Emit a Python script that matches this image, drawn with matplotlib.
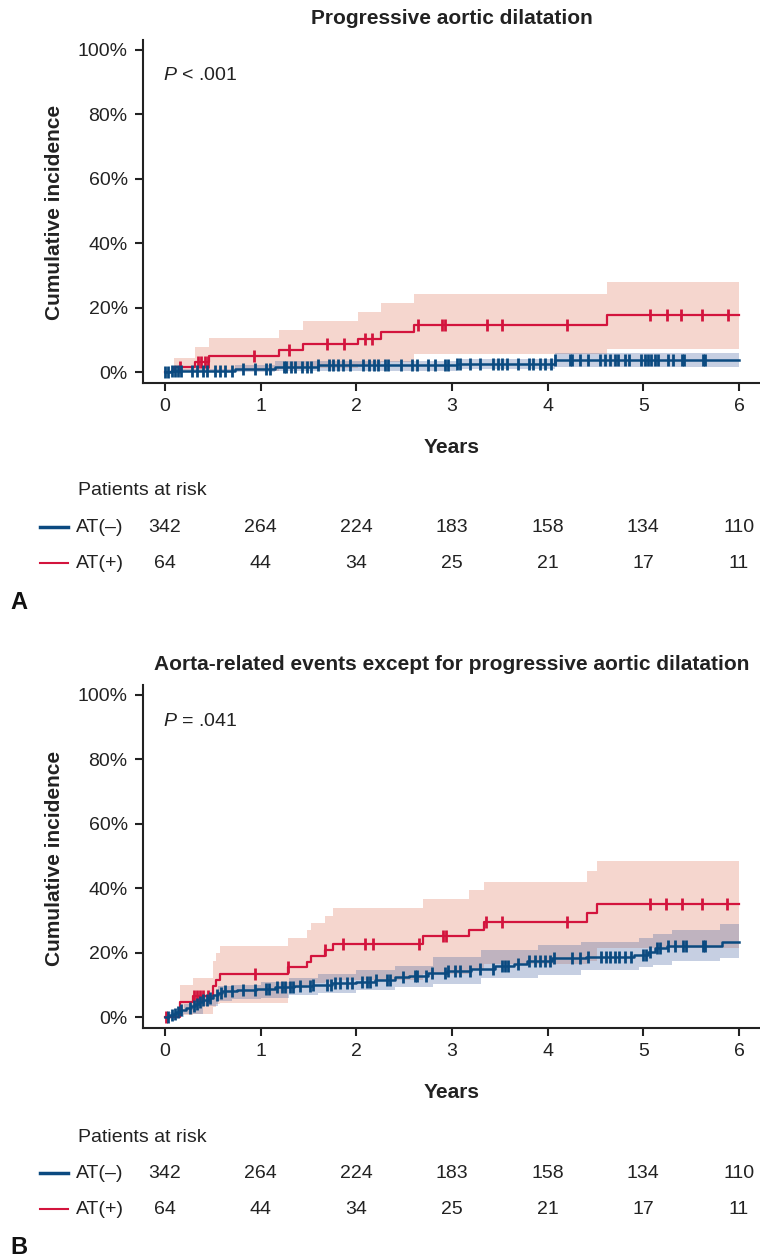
import numpy as np
import matplotlib.pyplot as plt
from matplotlib import transforms

plt.rcParams['font.family'] = ['Liberation Sans', 'DejaVu Sans']
plt.rcParams['mathtext.fontset'] = 'custom'
plt.rcParams['mathtext.it'] = 'Liberation Sans:italic'
plt.rcParams['mathtext.rm'] = 'Liberation Sans'

W, H = 760, 1260
BLUE = '#0b4a80'
RED = '#d3143d'
TXT = '#222222'

years = [0, 1, 2, 3, 4, 5, 6]
risk_neg = [342, 264, 224, 183, 158, 134, 110]
risk_pos = [64, 44, 34, 25, 21, 17, 11]

# ---- Panel A: progressive aortic dilatation ----
a_neg_t = [0, 0.06, 0.73, 1.15, 1.60, 3.05, 4.08]
a_neg_v = [0, 0.3, 0.8, 1.6, 2.1, 2.5, 3.6]
a_neg_ci_t = [0, 0.06, 0.73, 1.15, 3.05, 4.08]
a_neg_hi = [0, 1.0, 2.2, 3.4, 3.9, 5.8]
a_neg_lo = [0, 0, 0, 0.3, 0.8, 1.5]
a_neg_cens = [0.0, 0.035, 0.07, 0.10, 0.14, 0.17, 0.28, 0.33, 0.40, 0.435, 0.52,
              0.575, 0.63, 0.70, 0.82, 0.94, 1.06, 1.10, 1.24, 1.27, 1.32, 1.36,
              1.43, 1.48, 1.53, 1.60, 1.71, 1.76, 1.81, 1.86, 1.93, 2.07, 2.13,
              2.18, 2.23, 2.30, 2.33, 2.47, 2.58, 2.63, 2.75, 2.82, 2.93, 2.96,
              3.05, 3.08, 3.19, 3.29, 3.43, 3.48, 3.52, 3.57, 3.69, 3.81, 3.85,
              3.92, 3.97, 4.04, 4.08, 4.23, 4.25, 4.34, 4.42, 4.55, 4.60, 4.65,
              4.70, 4.74, 4.81, 4.85, 4.98, 5.02, 5.05, 5.08, 5.12, 5.15, 5.26,
              5.31, 5.40, 5.43, 5.62, 5.65]

a_pos_t = [0, 0.09, 0.31, 0.46, 1.19, 1.44, 2.02, 2.26, 2.60, 4.62]
a_pos_v = [0, 1.6, 3.1, 5.0, 6.8, 8.6, 10.4, 12.4, 14.6, 17.7]
a_pos_hi = [0, 4.5, 7.8, 10.7, 13.2, 15.8, 18.6, 21.5, 24.3, 28.0]
a_pos_lo = [0, 0, 0, 0.3, 0.8, 1.2, 2.5, 3.2, 5.5, 7.3]
a_pos_cens = [0.16, 0.35, 0.38, 0.42, 0.45, 0.93, 1.30, 1.69, 1.87, 2.09, 2.16,
              2.65, 2.90, 2.93, 3.37, 3.52, 4.20, 5.07, 5.25, 5.39, 5.61, 5.89]

# ---- Panel B: aorta-related events except progressive dilatation ----
b_neg_t = [0, 0.04, 0.08, 0.12, 0.17, 0.22, 0.27, 0.31, 0.36, 0.40, 0.45, 0.50,
           0.55, 0.60, 0.75, 0.95, 1.15, 1.35, 1.55, 1.75, 2.00, 2.20, 2.40,
           2.55, 2.75, 2.95, 3.20, 3.45, 3.65, 3.78, 4.05, 4.40, 4.90, 5.05,
           5.12, 5.25, 5.82]
b_neg_v = [0, 0.5, 1.0, 1.5, 2.1, 2.7, 3.3, 3.9, 4.6, 5.3, 6.0, 6.7, 7.4, 8.0,
           8.3, 8.6, 9.2, 9.6, 10.1, 10.6, 11.0, 11.5, 12.3, 12.9, 13.6, 14.2,
           15.0, 15.7, 16.5, 17.5, 18.2, 18.6, 19.2, 20.3, 21.3, 22.1, 23.4]
b_neg_ci_t = [0, 0.05, 0.2, 0.4, 0.55, 0.7, 1.0, 1.3, 1.6, 2.0, 2.4, 2.8, 3.3,
              3.9, 4.35, 4.95, 5.1, 5.3, 5.8]
b_neg_hi = [0, 1.5, 4.0, 7.0, 9.5, 10.0, 10.8, 12.0, 13.5, 14.5, 16.0, 18.5,
            20.9, 22.5, 23.4, 24.5, 25.8, 27.0, 28.8]
b_neg_lo = [0, 0, 1.0, 3.5, 5.0, 5.6, 6.0, 6.8, 7.5, 8.5, 9.3, 10.2, 12.1, 13.1,
            14.7, 15.5, 16.3, 17.3, 18.2]
b_neg_cens = [0.035, 0.07, 0.10, 0.14, 0.17, 0.26, 0.30, 0.33, 0.37, 0.40, 0.435,
              0.47, 0.54, 0.59, 0.63, 0.70, 0.82, 0.94, 1.06, 1.09, 1.17, 1.22,
              1.25, 1.31, 1.34, 1.41, 1.52, 1.55, 1.69, 1.74, 1.78, 1.83, 1.90,
              1.95, 2.06, 2.11, 2.14, 2.21, 2.32, 2.35, 2.49, 2.61, 2.63, 2.73,
              2.79, 2.93, 2.96, 3.03, 3.08, 3.19, 3.29, 3.43, 3.52, 3.55, 3.59,
              3.69, 3.81, 3.87, 3.92, 3.97, 4.02, 4.07, 4.25, 4.34, 4.42, 4.56,
              4.61, 4.65, 4.70, 4.75, 4.81, 4.87, 5.00, 5.03, 5.07, 5.14, 5.17,
              5.26, 5.33, 5.42, 5.45, 5.62, 5.65]

b_pos_t = [0, 0.16, 0.29, 0.50, 0.53, 0.58, 1.29, 1.48, 1.53, 1.67, 1.76, 2.70,
           3.18, 3.33, 4.41, 4.52]
b_pos_v = [0, 4.8, 6.6, 9.5, 11.6, 13.5, 15.4, 17.2, 18.9, 20.7, 22.7, 25.1,
           27.1, 29.6, 32.2, 35.0]
b_pos_hi = [0, 10.0, 12.2, 17.5, 19.8, 22.1, 24.5, 27.0, 29.3, 31.3, 33.9, 36.5,
            39.3, 42.0, 45.2, 48.5]
b_pos_lo = [0, 0.7, 0.9, 3.0, 4.0, 4.5, 9.0, 10.0, 10.5, 11.0, 11.5, 13.5, 15.0,
            16.5, 17.5, 21.4]
b_pos_cens = [0.01, 0.30, 0.33, 0.37, 0.40, 0.45, 0.94, 1.29, 1.67, 1.86, 2.09,
              2.17, 2.66, 2.91, 2.94, 3.36, 3.52, 4.20, 5.07, 5.24, 5.40, 5.61,
              5.88]

END = 6.0


def ext(t, v):
    return np.append(t, END), np.append(v, v[-1])


def draw_band(ax, t, lo, hi, color, z):
    te, loe = ext(t, lo)
    _, hie = ext(t, hi)
    ax.fill_between(te, loe, hie, step='post', color=color, alpha=0.3,
                    linewidth=0, zorder=z)


def draw_curve(ax, t, v, cens, color, z, lw):
    te, ve = ext(t, v)
    ax.step(te, ve, where='post', color=color, lw=lw, zorder=z)
    t = np.asarray(t)
    idx = np.searchsorted(t, cens, side='right') - 1
    ax.plot(cens, np.asarray(v)[idx], linestyle='none', marker='|',
            markersize=8, markeredgewidth=2.0, color=color, zorder=z)


def fy(py):
    return 1 - py / H


def setup(ax):
    ax.set_xlim(-0.23, 6.22)
    ax.set_ylim(-3.4, 103.1)
    ax.set_xticks(years)
    ax.set_yticks([0, 20, 40, 60, 80, 100])
    ax.set_yticklabels(['0%', '20%', '40%', '60%', '80%', '100%'])
    for s in ['top', 'right']:
        ax.spines[s].set_visible(False)
    for s in ['left', 'bottom']:
        ax.spines[s].set_linewidth(1.5)
        ax.spines[s].set_color(TXT)
    ax.tick_params(axis='both', labelsize=14, length=6, width=1.5,
                   color=TXT, labelcolor=TXT, pad=5)


def panel(ax, title, title_y, ptxt, neg, pos, ytop, letter, letter_y):
    setup(ax)
    pt, pv, plo, phi, pc = pos
    nt, nv, nct, nlo, nhi, nc = neg
    draw_band(ax, pt, plo, phi, '#e17a5f', 1)
    draw_band(ax, nct, nlo, nhi, '#44629f', 2)
    draw_curve(ax, pt, pv, pc, RED, 3, 1.6)
    draw_curve(ax, nt, nv, nc, BLUE, 4, 1.8)

    fig.text(452 / W, fy(title_y), title, ha='center', va='center',
             fontsize=15, fontweight='bold', color=TXT)
    ax.text(163 / W, fy(ytop + 35), ptxt, transform=fig.transFigure,
            ha='left', va='center', fontsize=14, color=TXT)
    fig.text(452 / W, fy(ytop + 407), 'Years', ha='center', va='center',
             fontsize=15, fontweight='bold', color=TXT)
    fig.text(55 / W, fy(ytop + 172), 'Cumulative incidence', rotation=90,
             ha='center', va='center', fontsize=15, fontweight='bold', color=TXT)

    # risk table
    trans = transforms.blended_transform_factory(ax.transData, fig.transFigure)
    base = ytop + 451
    fig.text(78 / W, fy(base), 'Patients at risk', ha='left', va='center',
             fontsize=14, color=TXT)
    rows = [('AT(–)', risk_neg, BLUE, 2.5), ('AT(+)', risk_pos, RED, 1.5)]
    for i, (lab, vals, col, lw) in enumerate(rows):
        yy = fy(base + 36 * (i + 1))
        fig.add_artist(plt.Line2D([40 / W, 68 / W], [yy, yy], color=col,
                                  lw=lw, transform=fig.transFigure))
        fig.text(76 / W, yy, lab, ha='left', va='center', fontsize=14,
                 color=TXT)
        for x, n in zip(years, vals):
            ax.text(x, yy, str(n), transform=trans, ha='center', va='center',
                    fontsize=14, color=TXT, clip_on=False)
    fig.text(10 / W, fy(letter_y), letter, ha='left', va='center',
             fontsize=17, fontweight='bold', color='#111111')


fig = plt.figure(figsize=(W / 100, H / 100), dpi=100)
axA = fig.add_axes([143 / W, fy(383), 617 / W, 343 / H])
axB = fig.add_axes([143 / W, fy(1028), 617 / W, 343 / H])

panel(axA, 'Progressive aortic dilatation', 18, r'$P$ < .001',
      (a_neg_t, a_neg_v, a_neg_ci_t, a_neg_lo, a_neg_hi, a_neg_cens),
      (a_pos_t, a_pos_v, a_pos_lo, a_pos_hi, a_pos_cens),
      40, 'A', 602)
panel(axB, 'Aorta-related events except for progressive aortic dilatation',
      665, r'$P$ = .041',
      (b_neg_t, b_neg_v, b_neg_ci_t, b_neg_lo, b_neg_hi, b_neg_cens),
      (b_pos_t, b_pos_v, b_pos_lo, b_pos_hi, b_pos_cens),
      686, 'B', 1248)

fig.savefig('out.png', dpi=100)
